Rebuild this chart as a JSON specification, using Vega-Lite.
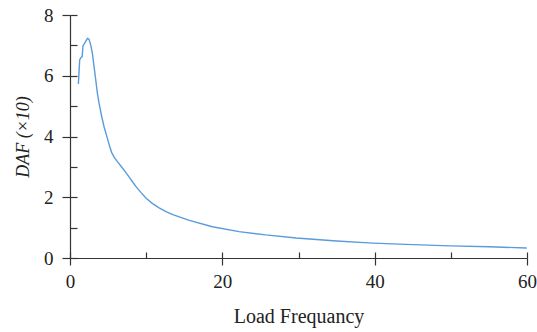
{
  "$schema": "https://vega.github.io/schema/vega-lite/v6.json",
  "width": 457,
  "height": 243,
  "autosize": "none",
  "padding": {"left": 70, "top": 15, "right": 10, "bottom": 74},
  "data": {"values": [
    {"f": 1.1, "v": 5.73},
    {"f": 1.27, "v": 6.52},
    {"f": 1.45, "v": 6.6},
    {"f": 1.6, "v": 6.63},
    {"f": 1.7, "v": 6.98},
    {"f": 1.97, "v": 7.09},
    {"f": 2.28, "v": 7.23},
    {"f": 2.5, "v": 7.2},
    {"f": 2.72, "v": 7.01},
    {"f": 2.94, "v": 6.74},
    {"f": 3.16, "v": 6.3},
    {"f": 3.38, "v": 5.86},
    {"f": 3.6, "v": 5.42},
    {"f": 3.82, "v": 5.09},
    {"f": 4.17, "v": 4.65},
    {"f": 4.47, "v": 4.32},
    {"f": 4.91, "v": 3.94},
    {"f": 5.22, "v": 3.66},
    {"f": 5.48, "v": 3.47},
    {"f": 5.79, "v": 3.32},
    {"f": 6.2, "v": 3.18},
    {"f": 6.7, "v": 3.02},
    {"f": 7.2, "v": 2.86},
    {"f": 7.7, "v": 2.69},
    {"f": 8.2, "v": 2.51},
    {"f": 8.7, "v": 2.34},
    {"f": 9.3, "v": 2.16},
    {"f": 10, "v": 1.97},
    {"f": 10.8, "v": 1.8},
    {"f": 11.7, "v": 1.65},
    {"f": 12.6, "v": 1.53},
    {"f": 13.5, "v": 1.43},
    {"f": 15.66, "v": 1.24},
    {"f": 18.7, "v": 1.03},
    {"f": 22.2, "v": 0.87},
    {"f": 25.7, "v": 0.76},
    {"f": 29.7, "v": 0.66},
    {"f": 35, "v": 0.56},
    {"f": 39.8, "v": 0.49},
    {"f": 45, "v": 0.44},
    {"f": 49.9, "v": 0.4},
    {"f": 55, "v": 0.37},
    {"f": 59.96, "v": 0.33}
  ]},
  "config": {
    "view": {"stroke": null},
    "font": "Liberation Serif",
    "axis": {
      "grid": false,
      "labelFlush": false,
      "domainColor": "#333333",
      "tickColor": "#333333",
      "labelColor": "#222222",
      "titleColor": "#222222",
      "labelFontSize": 19,
      "titleFontSize": 20,
      "titleFontWeight": "normal",
      "labelFont": "Liberation Serif",
      "titleFont": "Liberation Serif",
      "domainWidth": 1.2,
      "tickWidth": 1.2
    }
  },
  "resolve": {"axis": {"x": "independent", "y": "independent"}},
  "layer": [
    {
      "mark": {"type": "line", "color": "#5a9bdc", "strokeWidth": 1.4},
      "encoding": {
        "x": {"field": "f", "type": "quantitative", "scale": {"domain": [0, 60]},
          "axis": {"orient": "bottom", "values": [0, 20, 40, 60], "tickSize": 7, "labelPadding": 7, "title": "Load Frequancy", "titlePadding": 15}},
        "y": {"field": "v", "type": "quantitative", "scale": {"domain": [0, 8]},
          "axis": {"orient": "left", "values": [0, 2, 4, 6, 8], "tickSize": 8, "labelPadding": 9, "title": "DAF (×10)", "titleFontStyle": "italic", "titleFontSize": 18, "titlePadding": 11}}
      }
    },
    {
      "mark": {"type": "line", "opacity": 0},
      "encoding": {
        "x": {"field": "f", "type": "quantitative", "scale": {"domain": [0, 60]},
          "axis": {"orient": "bottom", "values": [0, 10, 20, 30, 40, 50, 60], "tickSize": -6, "labels": false, "domain": false, "title": null}},
        "y": {"field": "v", "type": "quantitative", "scale": {"domain": [0, 8]},
          "axis": {"orient": "left", "values": [0, 1, 2, 3, 4, 5, 6, 7, 8], "tickSize": -7, "labels": false, "domain": false, "title": null}}
      }
    }
  ]
}
